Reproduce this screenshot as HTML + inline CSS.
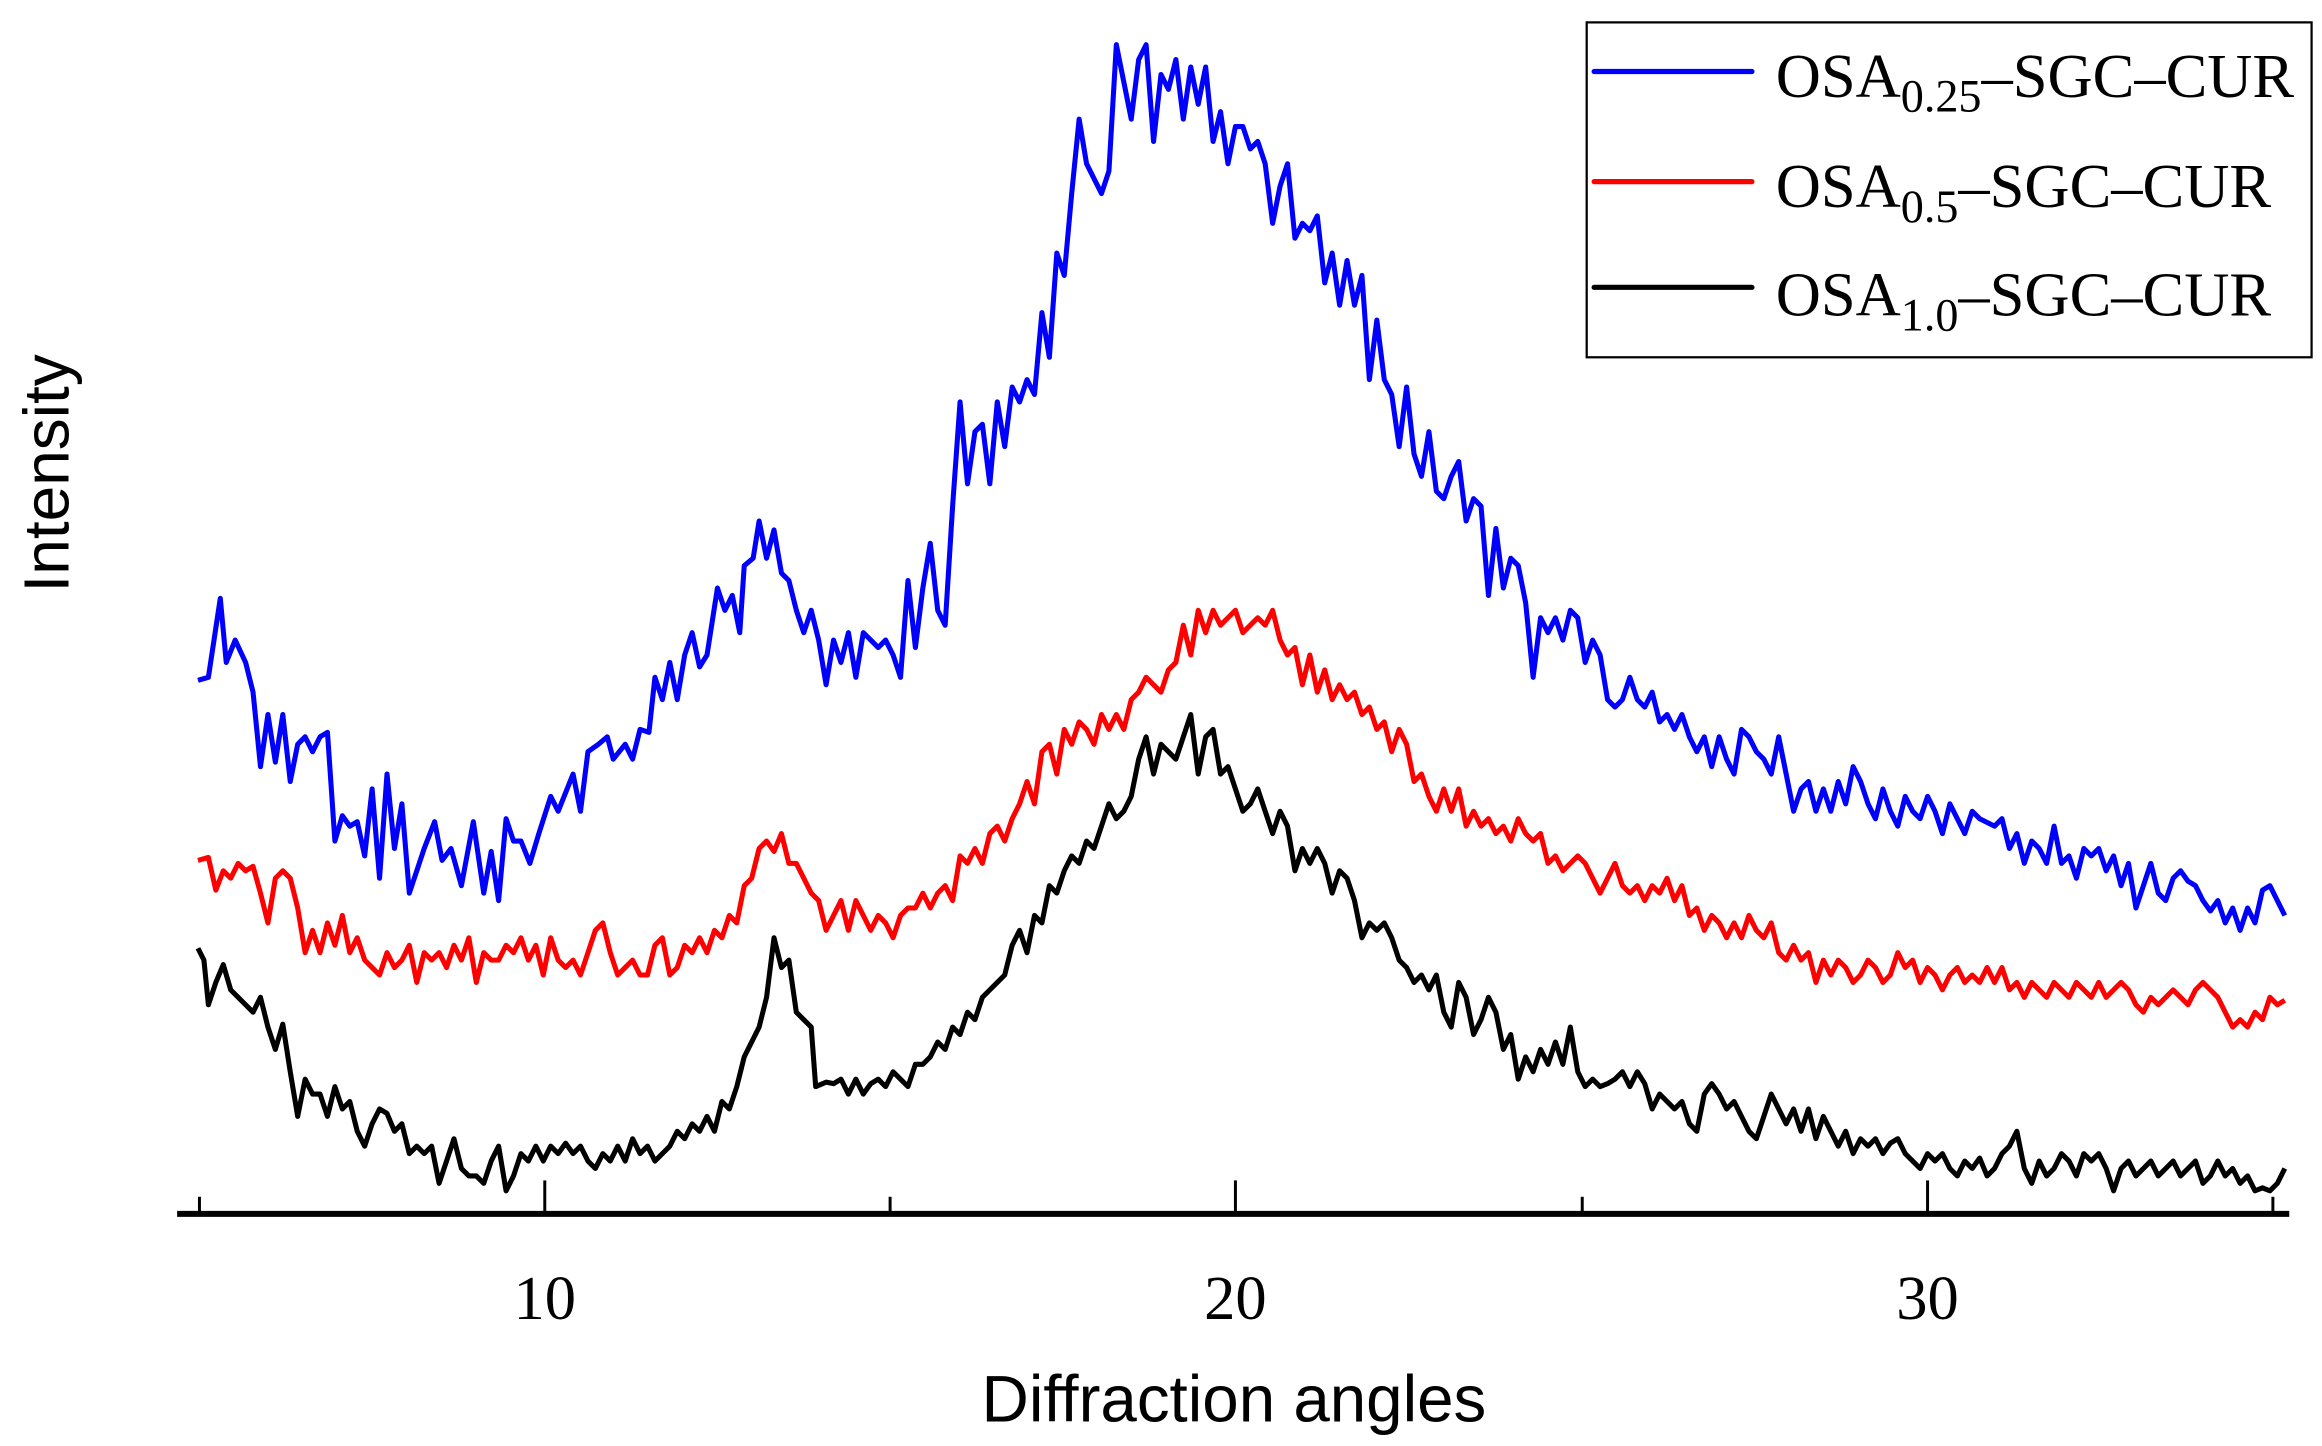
<!DOCTYPE html>
<html><head><meta charset="utf-8"><style>html,body{margin:0;padding:0;background:#fff}svg{display:block}</style></head><body>
<svg width="2322" height="1446" viewBox="0 0 1560 971.4" xmlns="http://www.w3.org/2000/svg">
<rect width="1560" height="972" fill="#fff"/>
<g fill="none" stroke-width="3.4" stroke-linejoin="round">
<polyline stroke="#0000ff" points="133,457 140,455 148,402 152,445 158,430 165,445 170,465 175,515 180,480 185,512 190,480 195,525 200,500 205,495 210,505 215,495 220,492 225,565 230,548 235,555 240,552 245,575 250,530 255,590 260,520 265,570 270,540 275,600 280,585 285,570 292,552 297,578 303,570 310,595 318,552 325,600 330,572 335,605 340,550 345,565 350,565 356,580 362,560 370,535 375,545 385,520 390,545 395,505 402,500 408,495 412,510 420,500 425,510 430,490 436,492 440,455 445,470 450,445 455,470 460,440 465,425 470,448 475,440 482,395 487,410 492,400 497,425 500,380 506,375 510,350 515,375 520,356 525,385 530,390 535,410 540,425 545,410 550,430 555,460 560,430 565,445 570,425 575,455 580,425 585,430 590,435 595,430 600,440 605,455 610,390 615,435 620,395 625,365 630,410 635,420 640,340 645,270 650,325 655,290 660,285 665,325 670,270 675,300 680,260 685,270 690,255 695,265 700,210 705,240 710,170 715,185 720,130 725,80 730,110 735,120 740,130 745,115 750,30 755,55 760,80 765,40 770,30 775,95 780,50 785,60 790,40 795,80 800,45 805,70 810,45 815,95 820,75 825,110 830,85 835,85 840,100 845,95 850,110 855,150 860,125 865,110 870,160 875,150 880,155 885,145 890,190 895,170 900,205 905,175 910,205 915,185 920,255 925,215 930,255 935,265 940,300 945,260 950,305 955,320 960,290 965,330 970,335 975,320 980,310 985,350 990,335 995,340 1000,400 1005,355 1010,395 1015,375 1020,380 1025,405 1030,455 1035,415 1040,425 1045,415 1050,430 1055,410 1060,415 1065,445 1070,430 1075,440 1080,470 1085,475 1090,470 1095,455 1100,470 1105,475 1110,465 1115,485 1120,480 1125,490 1130,480 1135,495 1140,505 1145,495 1150,515 1155,495 1160,510 1165,520 1170,490 1175,495 1180,505 1185,510 1190,520 1195,495 1200,520 1205,545 1210,530 1215,525 1220,545 1225,530 1230,545 1235,525 1240,540 1245,515 1250,525 1255,540 1260,550 1265,530 1270,545 1275,555 1280,535 1285,545 1290,550 1295,535 1300,545 1305,560 1310,540 1315,550 1320,560 1325,545 1330,550 1340,555 1345,550 1350,570 1355,560 1360,580 1365,565 1370,570 1375,580 1380,555 1385,580 1390,575 1395,590 1400,570 1405,575 1410,570 1415,585 1420,575 1425,595 1430,580 1435,610 1440,595 1445,580 1450,600 1455,605 1460,590 1465,585 1470,592 1475,595 1480,605 1485,612 1490,605 1495,620 1500,610 1505,625 1510,610 1515,620 1520,598 1525,595 1530,605 1535,615"/>
<polyline stroke="#ff0000" points="133,578 140,576 145,598 150,585 155,590 160,580 165,585 170,582 175,600 180,620 185,590 190,585 195,590 200,610 205,640 210,625 215,640 220,620 225,635 230,615 235,640 240,630 245,645 250,650 255,655 260,640 265,650 270,645 275,635 280,660 285,640 290,645 295,640 300,650 305,635 310,645 315,630 320,660 325,640 330,645 335,645 340,635 345,640 350,630 355,645 360,635 365,655 370,630 375,645 380,650 385,645 390,655 395,640 400,625 405,620 410,640 415,655 420,650 425,645 430,655 435,655 440,635 445,630 450,655 455,650 460,635 465,640 470,630 475,640 480,625 485,630 490,615 495,620 500,595 505,590 510,570 515,565 520,572 525,560 530,580 535,580 540,590 545,600 550,605 555,625 560,615 565,605 570,625 575,605 580,615 585,625 590,615 595,620 600,630 605,615 610,610 615,610 620,600 625,610 630,600 635,595 640,605 645,575 650,580 655,570 660,580 665,560 670,555 675,565 680,550 685,540 690,525 695,540 700,505 705,500 710,520 715,490 720,500 725,485 730,490 735,500 740,480 745,490 750,480 755,490 760,470 765,465 770,455 775,460 780,465 785,450 790,445 795,420 800,440 805,410 810,425 815,410 820,420 825,415 830,410 835,425 840,420 845,415 850,420 855,410 860,430 865,440 870,435 875,460 880,440 885,465 890,450 895,470 900,460 905,470 910,465 915,480 920,475 925,490 930,485 935,505 940,490 945,500 950,525 955,520 960,535 965,545 970,530 975,545 980,530 985,555 990,545 995,555 1000,550 1005,560 1010,555 1015,565 1020,550 1025,560 1030,565 1035,560 1040,580 1045,575 1050,585 1055,580 1060,575 1065,580 1070,590 1075,600 1080,590 1085,580 1090,595 1095,600 1100,595 1105,605 1110,595 1115,600 1120,590 1125,605 1130,595 1135,615 1140,610 1145,625 1150,615 1155,620 1160,630 1165,620 1170,630 1175,615 1180,625 1185,630 1190,620 1195,640 1200,645 1205,635 1210,645 1215,640 1220,660 1225,645 1230,655 1235,645 1240,650 1245,660 1250,655 1255,645 1260,650 1265,660 1270,655 1275,640 1280,650 1285,645 1290,660 1295,650 1300,655 1305,665 1310,655 1315,650 1320,660 1325,655 1330,660 1335,650 1340,660 1345,650 1350,665 1355,660 1360,670 1365,660 1370,665 1375,670 1380,660 1385,665 1390,670 1395,660 1400,665 1405,670 1410,660 1415,670 1420,665 1425,660 1430,665 1435,675 1440,680 1445,670 1450,675 1455,670 1460,665 1465,670 1470,675 1475,665 1480,660 1485,665 1490,670 1495,680 1500,690 1505,685 1510,690 1515,680 1520,685 1525,670 1530,675 1535,672"/>
<polyline stroke="#000000" points="133,637 137,645 140,675 145,660 150,648 155,665 160,670 165,675 170,680 175,670 180,690 185,705 190,688 195,720 200,750 205,725 210,735 215,735 220,750 225,730 230,745 235,740 240,760 245,770 250,755 255,745 260,748 265,760 270,755 275,775 280,770 285,775 290,770 295,795 300,780 305,765 310,785 315,790 320,790 325,795 330,780 335,770 340,800 345,790 350,775 355,780 360,770 365,780 370,770 375,775 380,768 385,775 390,770 395,780 400,785 405,775 410,780 415,770 420,780 425,765 430,775 435,770 440,780 445,775 450,770 455,760 460,765 465,755 470,760 475,750 480,760 485,740 490,745 495,730 500,710 505,700 510,690 515,670 520,630 525,650 530,645 535,680 540,685 545,690 548,730 555,727 560,728 565,725 570,735 575,725 580,735 585,728 590,725 595,730 600,720 605,725 610,730 615,715 620,715 625,710 630,700 635,705 640,690 645,695 650,680 655,685 660,670 665,665 670,660 675,655 680,635 685,625 690,640 695,615 700,620 705,595 710,600 715,585 720,575 725,580 730,565 735,570 740,555 745,540 750,550 755,545 760,535 765,510 770,495 775,520 780,500 785,505 790,510 795,495 800,480 805,520 810,495 815,490 820,520 825,515 830,530 835,545 840,540 845,530 850,545 855,560 860,545 865,555 870,585 875,570 880,580 885,570 890,580 895,600 900,585 905,590 910,605 915,630 920,620 925,625 930,620 935,630 940,645 945,650 950,660 955,655 960,665 965,655 970,680 975,690 980,660 985,670 990,695 995,685 1000,670 1005,680 1010,705 1015,695 1020,725 1025,710 1030,720 1035,705 1040,715 1045,700 1050,715 1055,690 1060,720 1065,730 1070,725 1075,730 1080,728 1085,725 1090,720 1095,730 1100,720 1105,728 1110,745 1115,735 1120,740 1125,745 1130,740 1135,755 1140,760 1145,735 1150,728 1155,735 1160,745 1165,740 1170,750 1175,760 1180,765 1185,750 1190,735 1195,745 1200,755 1205,745 1210,760 1215,745 1220,765 1225,750 1230,760 1235,770 1240,760 1245,775 1250,765 1255,770 1260,765 1265,775 1270,768 1275,765 1280,775 1285,780 1290,785 1295,775 1300,780 1305,775 1310,785 1315,790 1320,780 1325,785 1330,778 1335,790 1340,785 1345,775 1350,770 1355,760 1360,785 1365,795 1370,780 1375,790 1380,785 1385,775 1390,780 1395,790 1400,775 1405,780 1410,775 1415,785 1420,800 1425,785 1430,780 1435,790 1440,785 1445,780 1450,790 1455,785 1460,780 1465,790 1470,785 1475,780 1480,795 1485,790 1490,780 1495,790 1500,785 1505,795 1510,790 1515,800 1520,798 1525,800 1530,795 1535,785"/>
</g>
<g stroke="#000">
<line x1="119" y1="815.5" x2="1538" y2="815.5" stroke-width="4"/>
<g stroke-width="2">
<line x1="134" y1="804" x2="134" y2="815"/><line x1="366" y1="793" x2="366" y2="815"/>
<line x1="598" y1="804" x2="598" y2="815"/><line x1="830" y1="793" x2="830" y2="815"/>
<line x1="1063" y1="804" x2="1063" y2="815"/><line x1="1295" y1="793" x2="1295" y2="815"/>
<line x1="1527" y1="804" x2="1527" y2="815"/>
</g></g>
<g font-family="Liberation Serif, serif" font-size="42" text-anchor="middle" fill="#000">
<text x="366" y="886">10</text><text x="830" y="886">20</text><text x="1295" y="886">30</text>
</g>
<text x="829" y="955" font-family="Liberation Sans, sans-serif" font-size="44" text-anchor="middle">Diffraction angles</text>
<text transform="translate(46,318) rotate(-90)" font-family="Liberation Sans, sans-serif" font-size="43" text-anchor="middle">Intensity</text>
<rect x="1066" y="15" width="487" height="225" fill="none" stroke="#000" stroke-width="1.5"/>
<g stroke-width="3.5" stroke-linecap="round">
<line x1="1071" y1="48" x2="1177" y2="48" stroke="#0000ff"/>
<line x1="1071" y1="122" x2="1177" y2="122" stroke="#ff0000"/>
<line x1="1071" y1="193" x2="1177" y2="193" stroke="#000"/>
</g>
<g font-family="Liberation Serif, serif" font-size="42" fill="#000">
<text x="1193" y="65">OSA<tspan font-size="31" dy="10">0.25</tspan><tspan dy="-10">–SGC–CUR</tspan></text>
<text x="1193" y="139">OSA<tspan font-size="31" dy="10">0.5</tspan><tspan dy="-10">–SGC–CUR</tspan></text>
<text x="1193" y="212">OSA<tspan font-size="31" dy="10">1.0</tspan><tspan dy="-10">–SGC–CUR</tspan></text>
</g>
</svg>
</body></html>
